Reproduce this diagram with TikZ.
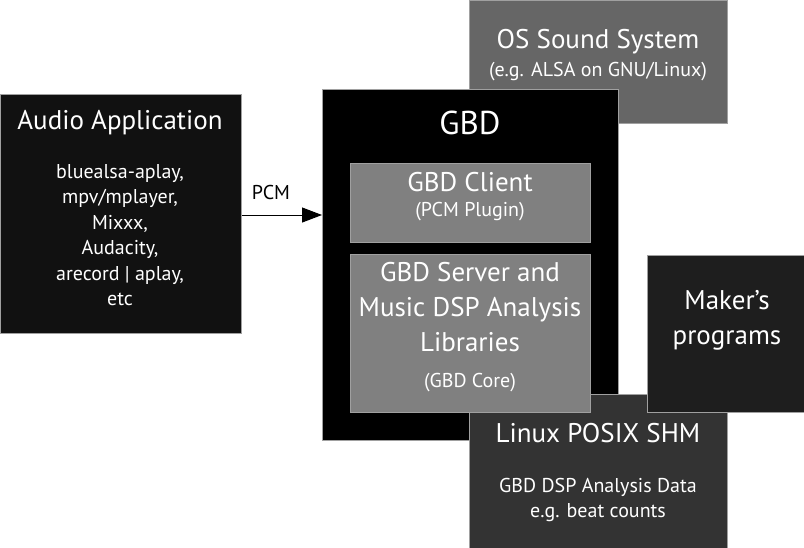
\documentclass[tikz,border=0pt]{standalone}
\usepackage{fontspec}
\setmainfont{PT Sans}
\usetikzlibrary{arrows.meta}
\definecolor{appgray}{HTML}{111111}
\definecolor{osgray}{HTML}{666666}
\definecolor{coregray}{HTML}{808080}
\definecolor{makergray}{HTML}{1E1E1E}
\definecolor{shmgray}{HTML}{333333}
\definecolor{edgegray}{HTML}{A0A0A0}
\begin{document}
\begin{tikzpicture}[x=1pt,y=-1pt,
    box/.style={draw=edgegray,line width=1pt,anchor=north west,inner sep=0pt},
    title/.style={text=white,font=\fontsize{27}{35}\selectfont,align=center},
    sub/.style={text=white,font=\fontsize{20}{25.5}\selectfont,align=center}]
      \useasboundingbox (0,0) rectangle (804,547);
      % boxes, back to front
      \node [box,fill=osgray,minimum width=258pt,minimum height=123pt] (os) at (469,0) {};
      \node [box,fill=appgray,minimum width=241pt,minimum height=239pt] (app) at (0,94) {};
      \node [box,fill=black,minimum width=296pt,minimum height=351pt] (gbd) at (322,89) {};
      \node [box,fill=shmgray,minimum width=258pt,minimum height=160pt] (shm) at (469,394) {};
      \node [box,fill=coregray,minimum width=240pt,minimum height=79pt] (client) at (350,163) {};
      \node [box,fill=coregray,minimum width=240pt,minimum height=158pt] (server) at (350,254) {};
      \node [box,fill=makergray,minimum width=160pt,minimum height=157pt] (maker) at (647,255) {};
      % texts
      \node [title] (apptitle) at (120,123) {Audio Application};
      \node [sub] (applist) at (120,235) {bluealsa-aplay,\\mpv/mplayer,\\Mixxx,\\Audacity,\\arecord | aplay,\\etc};
      \node [title] (ostitle) at (598,42) {OS Sound System};
      \node [sub] (osnote) at (598,72) {(e.g. ALSA on GNU/Linux)};
      \node [title,font=\fontsize{33}{35}\selectfont] (gbdtitle) at (470,123) {GBD};
      \node [title] (clienttitle) at (470,182) {GBD Client};
      \node [sub] (clientnote) at (470,212) {(PCM Plugin)};
      \node [title] (servertitle) at (470,307) {GBD Server and\\Music DSP Analysis\\Libraries};
      \node [sub] (servernote) at (470,383) {(GBD Core)};
      \node [title] (makertitle) at (727,320) {Maker’s\\programs};
      \node [title] (shmtitle) at (598,433) {Linux POSIX SHM};
      \node [sub] (shmnote) at (598,500) {GBD DSP Analysis Data\\e.g. beat counts};
      % connector
      \draw [line width=1pt,-{Triangle[length=20pt,width=15pt]}] (app.east |- 0,215) -- (gbd.west |- 0,215);
      \node [font=\fontsize{20}{22}\selectfont] (pcm) at (271,192) {PCM};
    \end{tikzpicture}
\end{document}
